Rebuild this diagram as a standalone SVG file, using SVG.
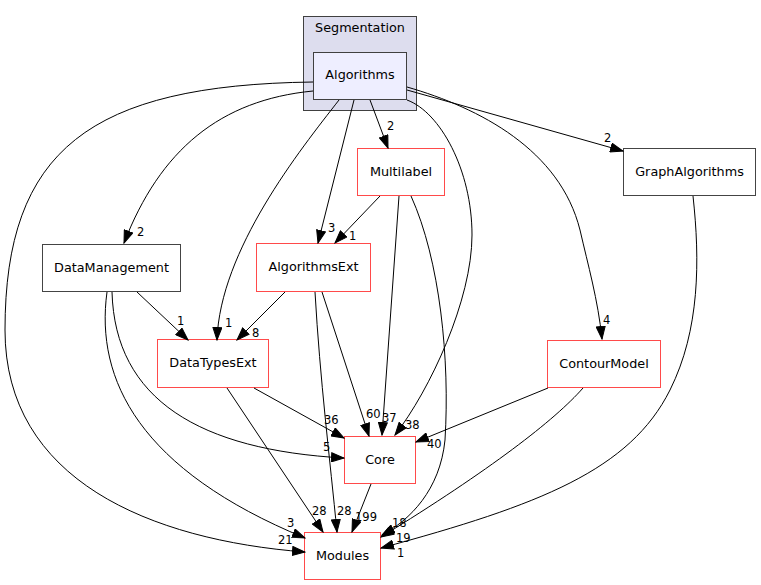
<svg xmlns="http://www.w3.org/2000/svg" width="761" height="585" viewBox="0 0 761 585">
<style>
text{font-family:"DejaVu Sans","Liberation Sans",sans-serif;fill:#000}
.nt{font-size:12.8px;text-anchor:middle}
.lt{font-size:11.5px}
.red{fill:#fff;stroke:#ff4a4a;stroke-width:1}
.blk{fill:#fff;stroke:#444;stroke-width:1}
.e{fill:none;stroke:#000;stroke-width:1;marker-end:url(#arr)}
</style>
<defs>
<marker id="arr" markerUnits="userSpaceOnUse" markerWidth="14" markerHeight="10" viewBox="0 0 14 10" refX="13" refY="5" orient="auto">
<path d="M0.5,0.5 L13,5 L0.5,9.5 z" fill="#000" stroke="#000" stroke-width="1"/>
</marker>
</defs>
<rect width="761" height="585" fill="#fff"/>
<g id="cluster-Segmentation">
<rect x="303.5" y="16.5" width="113" height="94" fill="#ddddee" stroke="#404040"/>
<text class="nt" x="360" y="32">Segmentation</text>
</g>
<g id="node-Algorithms">
<rect x="313.5" y="52.5" width="93" height="47" fill="#eeeeff" stroke="#404040"/>
<text class="nt" x="360" y="79">Algorithms</text>
</g>
<g id="node-Multilabel">
<rect class="red" x="357.5" y="148.5" width="87" height="47"/>
<text class="nt" x="401" y="175.5">Multilabel</text>
</g>
<g id="node-AlgorithmsExt">
<rect class="red" x="256.5" y="243.5" width="114" height="48"/>
<text class="nt" x="313.5" y="271">AlgorithmsExt</text>
</g>
<g id="node-DataManagement">
<rect class="blk" x="42.5" y="244.5" width="138" height="47"/>
<text class="nt" x="111.5" y="271.5">DataManagement</text>
</g>
<g id="node-DataTypesExt">
<rect class="red" x="157.5" y="339.5" width="111" height="48"/>
<text class="nt" x="213" y="367">DataTypesExt</text>
</g>
<g id="node-Core">
<rect class="red" x="344.5" y="436.5" width="71" height="47"/>
<text class="nt" x="380" y="463.5">Core</text>
</g>
<g id="node-Modules">
<rect class="red" x="304.5" y="532.5" width="76" height="47"/>
<text class="nt" x="342.5" y="559.5">Modules</text>
</g>
<g id="node-GraphAlgorithms">
<rect class="blk" x="623.5" y="148.5" width="132" height="47"/>
<text class="nt" x="689.5" y="175.5">GraphAlgorithms</text>
</g>
<g id="node-ContourModel">
<rect class="red" x="547.5" y="340.5" width="113" height="47"/>
<text class="nt" x="604" y="367.5">ContourModel</text>
</g>
<g id="edges">
<path class="e" d="M313,91 C220,100 160,150 124,243"/>
<text class="lt" x="137" y="236">2</text>
<path class="e" d="M313,82 C90,85 5,150 5,330 C5,480 150,540 305,552"/>
<text class="lt" x="278" y="544">21</text>
<path class="e" d="M339,100 C300,150 220,250 217,340"/>
<text class="lt" x="225" y="327">1</text>
<path class="e" d="M354,100 L318,243"/>
<text class="lt" x="328" y="232">3</text>
<path class="e" d="M370,100 L388,148"/>
<text class="lt" x="387" y="130">2</text>
<path class="e" d="M407,100 C440,112 472,170 472,235 C472,300 430,390 395,435"/>
<text class="lt" x="405" y="429">38</text>
<path class="e" d="M407,87 C480,108 560,150 580,230 C588,265 598,300 602,339"/>
<text class="lt" x="603" y="324">4</text>
<path class="e" d="M407,90 L623,151"/>
<text class="lt" x="604" y="142">2</text>
<path class="e" d="M137,292 L188,340"/>
<text class="lt" x="177" y="325">1</text>
<path class="e" d="M107,292 C95,380 140,470 305,538"/>
<text class="lt" x="287" y="527">3</text>
<path class="e" d="M112,292 C115,400 200,450 344,458"/>
<text class="lt" x="323" y="451">5</text>
<path class="e" d="M254,388 L344,438"/>
<text class="lt" x="324" y="424">36</text>
<path class="e" d="M227,388 L323,532"/>
<text class="lt" x="312" y="515">28</text>
<path class="e" d="M285,292 L237,340"/>
<text class="lt" x="252" y="337">8</text>
<path class="e" d="M322,292 L369,436"/>
<text class="lt" x="366" y="418">60</text>
<path class="e" d="M315,292 C320,380 330,460 337,532"/>
<text class="lt" x="337" y="515">28</text>
<path class="e" d="M380,196 L335,243"/>
<text class="lt" x="349" y="240">1</text>
<path class="e" d="M399,196 L382,435"/>
<text class="lt" x="382" y="422">37</text>
<path class="e" d="M411,196 C440,260 450,360 445,440 C440,490 410,520 382,535"/>
<text class="lt" x="392" y="527">18</text>
<path class="e" d="M371,484 L352,532"/>
<text class="lt" x="355" y="521">199</text>
<path class="e" d="M548,388 L416,442"/>
<text class="lt" x="427" y="448">40</text>
<path class="e" d="M583,388 C555,420 490,470 381,537"/>
<text class="lt" x="396" y="541.5">19</text>
<path class="e" d="M693,196 C700,260 700,330 670,390 C630,470 540,505 381,548"/>
<text class="lt" x="397" y="556.5">1</text>
</g>
</svg>
